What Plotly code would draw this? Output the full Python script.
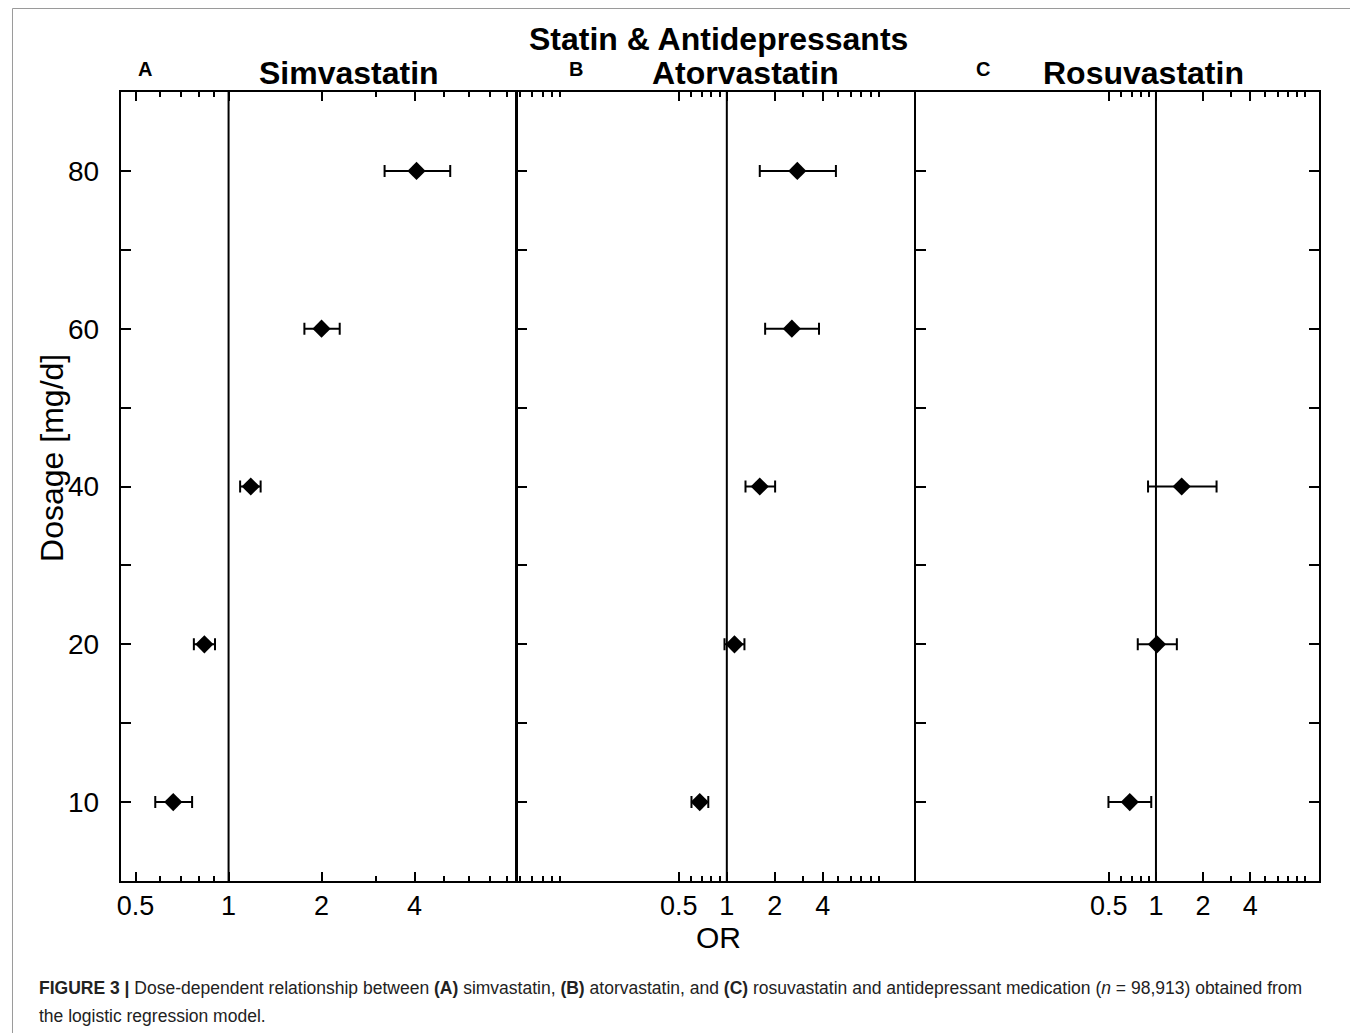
import plotly.graph_objects as go

# ---------------- data ----------------
doses = [10, 20, 40, 60, 80]

simva_or = [0.662, 0.835, 1.18, 2.00, 4.06]
simva_lo = [0.579, 0.772, 1.09, 1.76, 3.20]
simva_hi = [0.762, 0.904, 1.27, 2.29, 5.22]

atorva_or = [0.676, 1.117, 1.61, 2.56, 2.77]
atorva_lo = [0.600, 0.967, 1.31, 1.74, 1.61]
atorva_hi = [0.765, 1.290, 2.01, 3.79, 4.84]

rosuva_doses = [10, 20, 40]
rosuva_or = [0.680, 1.015, 1.46]
rosuva_lo = [0.497, 0.765, 0.89]
rosuva_hi = [0.933, 1.360, 2.44]

panel_titles = ["Simvastatin", "Atorvastatin", "Rosuvastatin"]
panel_letters = ["A", "B", "C"]
x_tickvals = [0.5, 1, 2, 4]
x_ticktext = ["0.5", "1", "2", "4"]
minor_ticks = [
    [0.6, 0.7, 0.8, 0.9, 3, 5, 6, 7, 8],
    [0.05, 0.06, 0.07, 0.08, 0.09, 0.6, 0.7, 0.8, 0.9, 3, 5, 6, 7, 8, 9],
    [0.6, 0.7, 0.8, 0.9, 3, 5, 6, 7, 8, 9],
]
ref_or = 1
suptitle = "Statin & Antidepressants"
y_title = "Dosage [mg/d]"
x_title = "OR"
caption_line1 = ("<b>FIGURE 3 |</b> Dose-dependent relationship between <b>(A)</b> simvastatin, "
                 "<b>(B)</b> atorvastatin, and <b>(C)</b> rosuvastatin and antidepressant medication "
                 "(<i>n</i> = 98,913) obtained from")
caption_line2 = "the logistic regression model."

# ---------------- layout geometry (reference pixels, page has 8px body margin) ----------------
OFF = 8
W, H = 1358 - OFF, 1033 - OFF
px = lambda v: (v - OFF) / W
py = lambda v: 1 - (v - OFF) / H

x_domains = [(117, 513), (515, 913), (915, 1319)]
y_dom = [py(881), py(92)]
x_ranges = [(-0.3493, 0.929), (-1.314, 1.177), (-1.532, 1.043)]
title_x = [346, 744, 1143]
letter_x = [141, 574, 982]

dose_pos = {d: i + 1 for i, d in enumerate(doses)}
y_range = [0.5, len(doses) + 0.5]

FONT = "Liberation Sans, Arial, Helvetica, sans-serif"

series = [
    (doses, simva_or, simva_lo, simva_hi),
    (doses, atorva_or, atorva_lo, atorva_hi),
    (rosuva_doses, rosuva_or, rosuva_lo, rosuva_hi),
]

fig = go.Figure()
for k, (dd, orv, lo, hi) in enumerate(series):
    sfx = "" if k == 0 else str(k + 1)
    fig.add_trace(go.Scatter(
        x=[ref_or, ref_or], y=y_range, mode="lines",
        line=dict(color="black", width=2),
        xaxis="x" + sfx, yaxis="y" + sfx, hoverinfo="skip", cliponaxis=False))
    fig.add_trace(go.Scatter(
        x=orv, y=[dose_pos[d] for d in dd], mode="markers",
        marker=dict(symbol="diamond", size=14, color="black"),
        error_x=dict(type="data", symmetric=False,
                     array=[h - o for h, o in zip(hi, orv)],
                     arrayminus=[o - l for o, l in zip(orv, lo)],
                     color="black", thickness=2, width=6),
        xaxis="x" + sfx, yaxis="y" + sfx))

layout = dict(
    width=W, height=H, autosize=False,
    margin=dict(l=0, r=0, t=0, b=0),
    paper_bgcolor="white", plot_bgcolor="white",
    showlegend=False,
    font=dict(family=FONT, color="black"),
)

mid_ticks = [p + 0.5 for p in range(1, len(doses))]
for k in range(3):
    sfx = "" if k == 0 else str(k + 1)
    layout["xaxis" + sfx] = dict(
        type="log", range=list(x_ranges[k]),
        domain=[px(x_domains[k][0]), px(x_domains[k][1])],
        anchor="y" + sfx,
        tickmode="array", tickvals=x_tickvals, ticktext=x_ticktext,
        ticks="inside", ticklen=9, tickwidth=2, tickcolor="black",
        showline=True, linecolor="black", linewidth=2, mirror="ticks",
        showgrid=False, zeroline=False,
        tickfont=dict(size=27, family=FONT, color="black"),
        ticklabelstandoff=0,
        minor=dict(tickmode="array", tickvals=minor_ticks[k], ticks="inside",
                   ticklen=5, tickwidth=2, tickcolor="black", showgrid=False),
    )
    layout["yaxis" + sfx] = dict(
        range=y_range, domain=y_dom, anchor="x" + sfx,
        tickmode="array", tickvals=list(range(1, len(doses) + 1)),
        ticktext=[str(d) for d in doses],
        showticklabels=(k == 0),
        ticks="inside", ticklen=10, tickwidth=2, tickcolor="black",
        showline=True, linecolor="black", linewidth=2,
        mirror=("ticks" if k == 2 else True),
        showgrid=False, zeroline=False,
        tickfont=dict(size=28, family=FONT, color="black"),
        ticklabelstandoff=14,
        minor=dict(tickmode="array", tickvals=mid_ticks, ticks="inside",
                   ticklen=10, tickwidth=2, tickcolor="black", showgrid=False),
    )

annotations = [
    dict(text="<b>" + suptitle + "</b>", x=px(717), y=py(39), xref="paper", yref="paper",
         showarrow=False, font=dict(size=32, family=FONT, color="black"),
         xanchor="center", yanchor="middle"),
    dict(text=y_title, x=px(48), y=py(458), xref="paper", yref="paper",
         showarrow=False, textangle=-90, font=dict(size=32, family=FONT, color="black"),
         xanchor="center", yanchor="middle"),
    dict(text=x_title, x=px(717), y=py(937), xref="paper", yref="paper",
         showarrow=False, font=dict(size=30, family=FONT, color="black"),
         xanchor="center", yanchor="middle"),
    dict(text=caption_line1, x=px(33), y=py(988), xref="paper", yref="paper",
         showarrow=False, align="left", xanchor="left", yanchor="middle",
         font=dict(size=17.5, family=FONT, color="#222222")),
    dict(text=caption_line2, x=px(33), y=py(1016), xref="paper", yref="paper",
         showarrow=False, align="left", xanchor="left", yanchor="middle",
         font=dict(size=17.5, family=FONT, color="#222222")),
]
for k in range(3):
    annotations.append(dict(text="<b>" + panel_titles[k] + "</b>", x=px(title_x[k]), y=py(73),
                            xref="paper", yref="paper", showarrow=False,
                            font=dict(size=32, family=FONT, color="black"),
                            xanchor="center", yanchor="middle"))
    annotations.append(dict(text="<b>" + panel_letters[k] + "</b>", x=px(letter_x[k]), y=py(69),
                            xref="paper", yref="paper", showarrow=False,
                            font=dict(size=20, family=FONT, color="black"),
                            xanchor="center", yanchor="middle"))
layout["annotations"] = annotations
layout["shapes"] = [dict(type="rect", xref="paper", yref="paper",
                         x0=0.5 / W, x1=px(1351), y0=-0.05, y1=1 - 0.5 / H,
                         line=dict(color="#9a9a9a", width=1), fillcolor="rgba(0,0,0,0)",
                         layer="below")]

fig.update_layout(**layout)
fig.write_html("out.html")
